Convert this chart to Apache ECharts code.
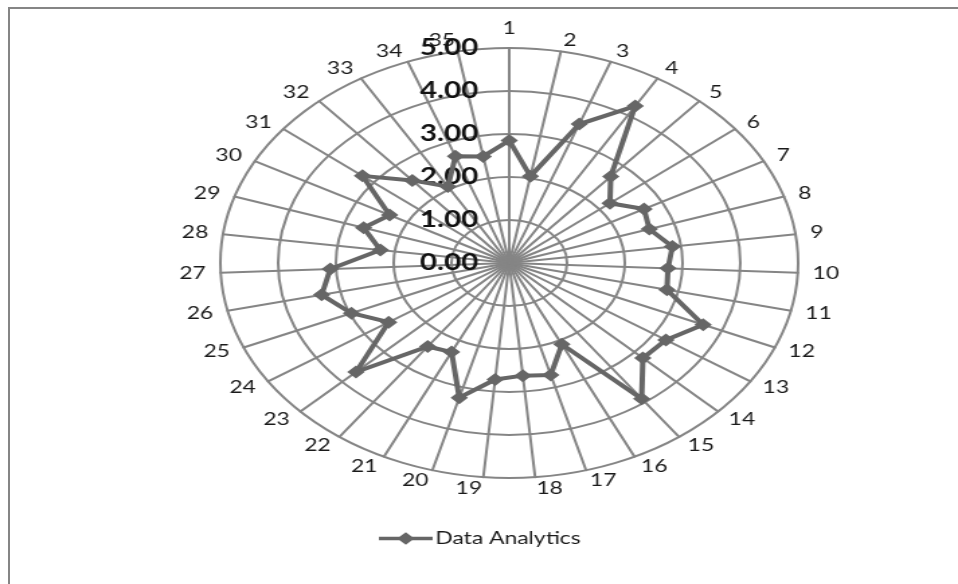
<!DOCTYPE html>
<html>
<head>
<meta charset="utf-8">
<script src="https://cdn.jsdelivr.net/npm/echarts@6/dist/echarts.min.js"></script>
<style>
  html, body { margin: 0; padding: 0; background: #fff; overflow: hidden; }
  #frame { position: absolute; left: 8px; top: 7px; width: 1000px; height: 700px;
           border-left: 2px solid #858585; border-top: 2px solid #858585; }
  /* the chart is laid out in a narrower box and widened horizontally */
  #chart { position: absolute; left: 0; top: 0; width: 713px; height: 584px;
           transform: scaleX(1.3436); transform-origin: 0 0; }
</style>
</head>
<body>
<div id="frame"></div>
<div id="chart"></div>
<script>
// Question numbers around the radar
const categories = ['1','2','3','4','5','6','7','8','9','10','11','12','13','14','15','16','17','18',
  '19','20','21','22','23','24','25','26','27','28','29','30','31','32','33','34','35'];

// Mean score per question
const dataAnalytics = [2.85, 2.05, 3.45, 4.25, 2.67, 2.23, 2.65, 2.55, 2.85, 2.75, 2.8, 3.65,
  3.25, 3.2, 3.9, 2.1, 2.7, 2.63, 2.72, 3.25, 2.3, 2.4, 3.67, 2.5, 2.97, 3.33, 3.1, 2.25,
  2.65, 2.35, 3.25, 2.55, 2.07, 2.65, 2.52];

// Radial scale
const tickValues = [0, 1, 2, 3, 4, 5];
const tickLabels = ['0.00', '1.00', '2.00', '3.00', '4.00', '5.00'];

const seriesName = 'Data Analytics';

// ECharts places radar indicators counter-clockwise; reorder so they run clockwise from the top
const order = [0];
for (let i = categories.length - 1; i > 0; i--) order.push(i);

const indicators = order.map((k, j) => {
  const ind = { name: categories[k], min: tickValues[0], max: tickValues[tickValues.length - 1] };
  if (j === 0) ind.axisLabel = { show: true };
  return ind;
});
const values = order.map(k => dataAnalytics[k]);

const gridColor = '#858585';
const lineColor = '#666666';
const legendIcon = 'path://M0,4.5 L40,4.5 L40,8 L0,8 Z M13.5,6.25 L20,0 L26.5,6.25 L20,12.5 Z';

const chart = echarts.init(document.getElementById('chart'), null, { renderer: 'canvas' });
chart.setOption({
  animation: false,
  legend: {
    data: [{ name: seriesName, icon: legendIcon }],
    left: 277,
    top: 525,
    itemWidth: 40,
    itemHeight: 13,
    textStyle: { fontFamily: 'Lato', fontSize: 17, color: '#1a1a1a', padding: [0, 0, 0, -3] }
  },
  radar: {
    center: [379, 263],
    radius: 215,
    startAngle: 90,
    splitNumber: tickValues.length - 1,
    shape: 'circle',
    indicator: indicators,
    nameGap: 11,
    axisName: { color: '#1a1a1a', fontFamily: 'Lato', fontSize: 17 },
    axisLine: { lineStyle: { color: gridColor, width: 2 } },
    splitLine: { lineStyle: { color: gridColor, width: 2 } },
    splitArea: { show: false },
    axisTick: { show: false },
    axisLabel: {
      show: false,
      fontFamily: 'Lato',
      fontWeight: 'bold',
      fontSize: 22,
      color: '#111',
      margin: 23,
      formatter: v => {
        const idx = tickValues.indexOf(Math.round(v * 100) / 100);
        return idx >= 0 ? tickLabels[idx] : '';
      }
    }
  },
  series: [{
    type: 'radar',
    name: seriesName,
    symbol: 'diamond',
    symbolSize: 13,
    lineStyle: { color: lineColor, width: 4 },
    itemStyle: { color: lineColor },
    data: [{ name: seriesName, value: values }]
  }]
});
</script>
</body>
</html>
